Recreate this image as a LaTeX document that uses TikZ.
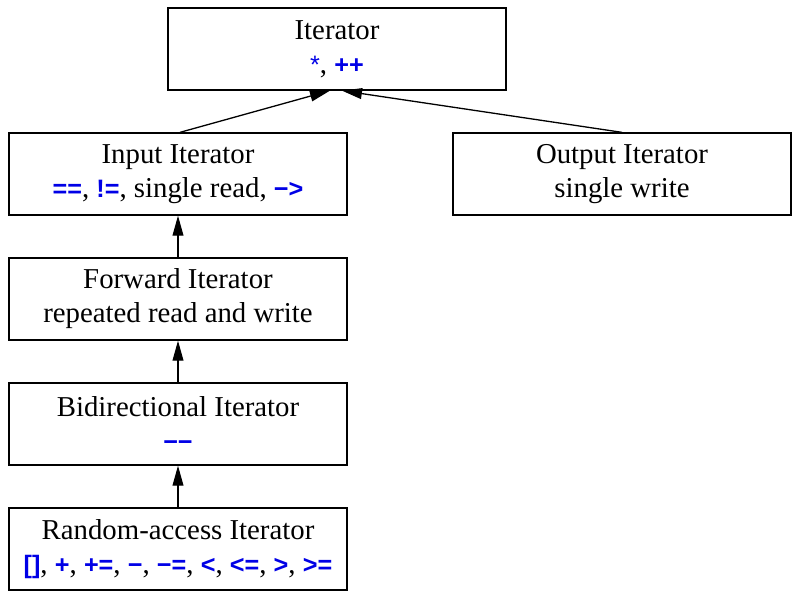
\documentclass[tikz,border=0pt]{standalone}
\usepackage{fontspec}
\setmainfont{Liberation Serif}
\newfontfamily\opfont{Liberation Sans}
\usetikzlibrary{arrows.meta}
\definecolor{opblue}{RGB}{0,0,230}
\newcommand{\op}[1]{{\opfont\bfseries\fontsize{12.6}{17}\selectfont\color{opblue}#1}}
\newcommand{\opstar}{{\opfont\fontsize{12.6}{17}\selectfont\color{opblue}*}}

\begin{document}
\begin{tikzpicture}[x=0.5pt,y=-0.5pt,
	itbox/.style={draw,line width=0.65pt,minimum width=169pt,minimum height=41pt,
		inner sep=0pt,align=center,font=\fontsize{14.4}{17}\selectfont},
	isa/.style={-{Triangle[length=10pt,width=5.4pt]},line width=0.65pt}]
\useasboundingbox (0,0) rectangle (800,600);

\node[itbox] (iter) at (337,49) {Iterator\\\opstar, \op{++}};
\node[itbox] (input) at (178,174) {Input Iterator\\\op{==}, \op{!=}, single read, \op{−>}};
\node[itbox] (output) at (622,174) {Output Iterator\\single write};
\node[itbox] (fwd) at (178,299) {Forward Iterator\\repeated read and write};
\node[itbox] (bidir) at (178,424) {Bidirectional Iterator\\\op{−−}};
\node[itbox] (rand) at (178,549) {Random-access Iterator\\
	\op{[]}, \op{+}, \op{+=}, \op{−}, \op{−=}, \op{<}, \op{<=}, \op{>}, \op{>=}};

\draw[isa] ([xshift=1pt]input.north) -- ([xshift=-3.5pt]iter.south);
\draw[isa] (output.north) -- ([xshift=2.5pt]iter.south);
\draw[isa] (fwd) -- (input);
\draw[isa] (bidir) -- (fwd);
\draw[isa] (rand) -- (bidir);
\end{tikzpicture}
\end{document}
